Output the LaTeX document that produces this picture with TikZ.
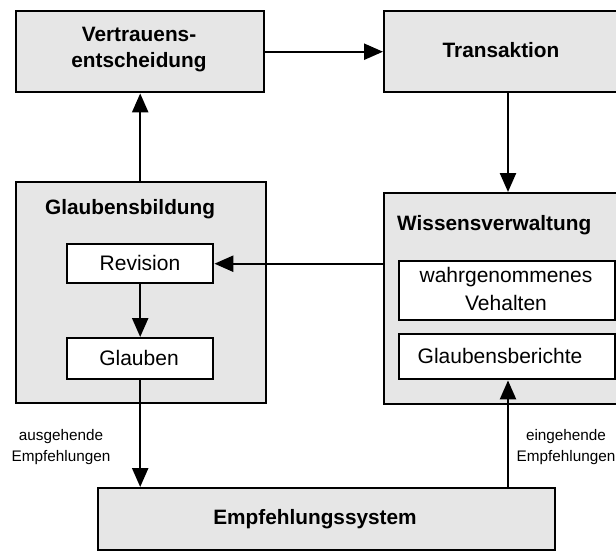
\documentclass[tikz,border=0pt]{standalone}
\usepackage{fontspec}
\setmainfont{Liberation Sans}
\usetikzlibrary{arrows.meta,positioning}

\definecolor{boxgray}{RGB}{230,230,230}

\tikzset{
  every picture/.style={x=1pt,y=-1pt},
  grayblock/.style={draw=black,fill=boxgray,line width=2.4pt,inner sep=0pt,
    rectangle,anchor=north west},
  whiteblock/.style={draw=black,fill=white,line width=2.4pt,inner sep=0pt,
    rectangle,anchor=north west},
  titletext/.style={font=\fontsize{20.8}{26}\selectfont\bfseries,align=center,inner sep=0pt},
  plaintext/.style={font=\fontsize{21}{28}\selectfont,align=center,inner sep=0pt},
  smalltext/.style={font=\fontsize{15.3}{21}\selectfont,align=center,inner sep=0pt},
  flow/.style={line width=2.4pt,-{Triangle[length=19pt,width=16pt]}}
}

\begin{document}
\begin{tikzpicture}
\useasboundingbox (0,0) rectangle (616,550);

% top row
\node[grayblock,minimum width=248pt,minimum height=81pt] (vt) at (15,10) {};
\node[titletext] (vtt) at (139,50) {Vertrauens-\\entscheidung};
\node[grayblock,minimum width=237pt,minimum height=81pt] (tr) at (383,10) {};
\node[titletext] (trt) at (501,50) {Transaktion};

% belief formation
\node[grayblock,minimum width=250pt,minimum height=221pt] (gb) at (15,181) {};
\node[titletext,anchor=west] (gbt) at (45,209) {Glaubensbildung};
\node[whiteblock,minimum width=146pt,minimum height=39pt] (rev) at (66,243) {};
\node[plaintext] (revt) at (140,263) {Revision};
\node[whiteblock,minimum width=146pt,minimum height=41pt] (gl) at (66,337) {};
\node[plaintext] (glt) at (139,358) {Glauben};

% knowledge management
\node[grayblock,minimum width=250pt,minimum height=211pt] (wv) at (383,192) {};
\node[titletext,anchor=west] (wvt) at (397,225) {Wissensverwaltung};
\node[whiteblock,minimum width=216pt,minimum height=59pt] (wb) at (398,260) {};
\node[plaintext] (wbt) at (506,289) {wahrgenommenes\\Vehalten};
\node[whiteblock,minimum width=216pt,minimum height=45pt] (gbr) at (398,333) {};
\node[plaintext] (gbrt) at (500,356) {Glaubensberichte};

% recommender system
\node[grayblock,minimum width=457pt,minimum height=62pt] (emp) at (97,487) {};
\node[titletext] (empt) at (315,519) {Empfehlungssystem};

% edge labels
\node[smalltext] (aus) at (61,447) {ausgehende\\Empfehlungen};
\node[smalltext] (ein) at (566,447) {eingehende\\Empfehlungen};

% connectors
\draw[flow] (vt.east) -- (tr.west);
\draw[flow] ([xshift=125pt]tr.south west) -- ([xshift=125pt]wv.north west);
\draw[flow] (wv.west |- rev.east) -- (rev.east);
\draw[flow] (rev.south) -- (rev.south |- gl.north);
\draw[flow] (gb.north -| vt.south) -- (vt.south);
\draw[flow] (gl.south) -- (gl.south |- emp.north);
\draw[flow] ([xshift=411pt]emp.north west) -- ([xshift=110pt]gbr.south west);
\end{tikzpicture}
\end{document}
